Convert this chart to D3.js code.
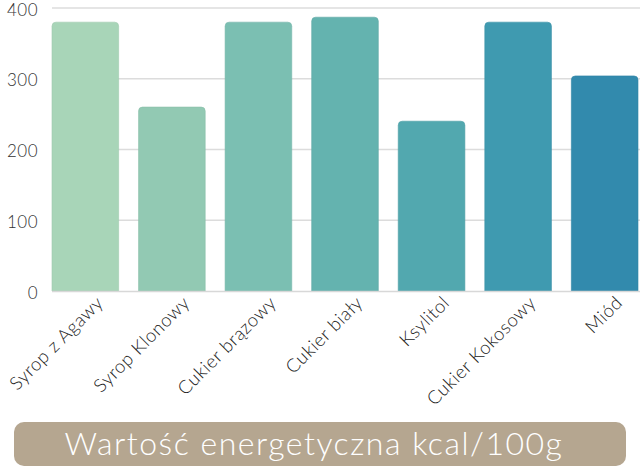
<!DOCTYPE html>
<html>
<head>
<meta charset="utf-8">
<script src="https://cdn.jsdelivr.net/npm/d3@7"></script>
<style>
  html, body { margin: 0; padding: 0; background: #fff; }
  svg { display: block; }
  text { font-family: "Lato", "Open Sans", sans-serif; }
</style>
</head>
<body>
<svg id="chart" width="640" height="473"></svg>
<script>
const categories = ["Syrop z Agawy", "Syrop Klonowy", "Cukier brązowy", "Cukier biały", "Ksylitol", "Cukier Kokosowy", "Miód"];
const values = [380, 260, 380, 387, 240, 380, 304];
const colors = ["#a8d5b8", "#92c9b3", "#7bbfb2", "#64b3af", "#52a8af", "#3f9ab0", "#328aad"];
const yTicks = [0, 100, 200, 300, 400];
const title = "Wartość energetyczna kcal/100g";

const svg = d3.select("#chart");

const x = d3.scaleBand().domain(categories).range([52, 638]).paddingInner(0.23).paddingOuter(0);
const y = d3.scaleLinear().domain([0, 400]).range([291, 8]);

// gridlines
svg.append("g").selectAll("line").data(yTicks.filter(d => d > 0)).join("line")
  .attr("x1", 52).attr("x2", 640)
  .attr("y1", d => y(d)).attr("y2", d => y(d))
  .attr("stroke", "#dcdcdc").attr("stroke-width", 1.5);

// y axis labels
const yAxis = d3.axisLeft(y).tickValues(yTicks).tickSize(0).tickPadding(0);
const ga = svg.append("g").attr("transform", "translate(38,0)").call(yAxis);
ga.select(".domain").remove();
ga.selectAll("text").attr("font-size", 17).attr("fill", "#333").attr("font-weight", 300)
  .attr("dy", "0.42em").attr("letter-spacing", 0.5);

// bars with rounded top corners
const r = 4;
function barPath(d, i) {
  const x0 = x(categories[i]), w = x.bandwidth();
  const yt = y(d), yb = y(0);
  return `M${x0},${yb} L${x0},${yt + r} Q${x0},${yt} ${x0 + r},${yt} L${x0 + w - r},${yt} Q${x0 + w},${yt} ${x0 + w},${yt + r} L${x0 + w},${yb} Z`;
}
svg.append("g").selectAll("path").data(values).join("path")
  .attr("d", (d, i) => barPath(d, i))
  .attr("fill", (d, i) => colors[i])
  .attr("stroke", (d, i) => d3.color(colors[i]).darker(0.15))
  .attr("stroke-width", 0.6);

// baseline
svg.append("line").attr("x1", 52).attr("x2", 640).attr("y1", y(0) + 0.5).attr("y2", y(0) + 0.5)
  .attr("stroke", "#d8d8d8").attr("stroke-width", 1.5);

// x labels
svg.append("g").selectAll("text").data(categories).join("text")
  .attr("transform", d => `translate(${x(d) + x.bandwidth() / 2 + 19},${304}) rotate(-45)`)
  .attr("text-anchor", "end")
  .attr("font-size", 18.5)
  .attr("font-weight", 300)
  .attr("letter-spacing", 0.5)
  .attr("fill", "#222")
  .text(d => d);

// title box
svg.append("rect").attr("x", 14).attr("y", 422).attr("width", 612).attr("height", 44)
  .attr("rx", 10).attr("fill", "#b5a690");
svg.append("text").attr("x", 314).attr("y", 444).attr("dy", "0.35em")
  .attr("text-anchor", "middle").attr("font-size", 32).attr("font-weight", 300)
  .attr("letter-spacing", 1.5)
  .attr("fill", "#fff").text(title);
</script>
</body>
</html>
